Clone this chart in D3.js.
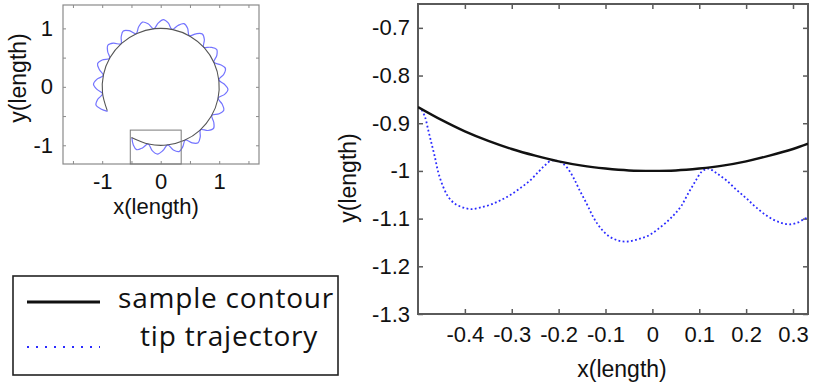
<!DOCTYPE html>
<html>
<head>
<meta charset="utf-8">
<script src="https://cdn.jsdelivr.net/npm/d3@7"></script>
<style>
  body { margin: 0; background: #fff; }
  svg { display: block; }
  text { font-family: "Liberation Sans", Arial, sans-serif; fill: #111; }
  .legend text { font-family: "Open Sans", "Noto Sans", sans-serif; letter-spacing: 0.8px; }
</style>
</head>
<body>
<div id="chart"></div>
<script>
// ---- zoomed view (right panel) ----
const mainXDomain = [-0.5, 0.332]
const mainYDomain = [-1.3, -0.65]
const mainXTicks = [-0.4, -0.3, -0.2, -0.1, 0, 0.1, 0.2, 0.3]
const mainXTickLabels = ['-0.4', '-0.3', '-0.2', '-0.1', '0', '0.1', '0.2', '0.3']
const mainYTicks = [-1.3, -1.2, -1.1, -1, -0.9, -0.8, -0.7]
const mainYTickLabels = ['-1.3', '-1.2', '-1.1', '-1', '-0.9', '-0.8', '-0.7']

const contourX = [-0.5, -0.45, -0.4, -0.35, -0.3, -0.25, -0.2, -0.15, -0.1, -0.05, 0, 0.05, 0.1, 0.15, 0.2, 0.25, 0.3, 0.332]
const contourY = [-0.866, -0.893, -0.917, -0.937, -0.954, -0.968, -0.98, -0.989, -0.995, -0.999, -1, -0.999, -0.995, -0.989, -0.98, -0.968, -0.954, -0.943]

const tipX = [-0.492, -0.485, -0.478, -0.471, -0.464, -0.457, -0.446, -0.435, -0.421, -0.403, -0.386, -0.368, -0.346, -0.325, -0.304, -0.283, -0.261, -0.243, -0.229, -0.215,
  -0.197, -0.183, -0.169, -0.155, -0.140, -0.126, -0.112, -0.094, -0.073, -0.052, -0.030, -0.009, 0.012, 0.034, 0.048, 0.062, 0.076, 0.091, 0.105, 0.119,
  0.137, 0.158, 0.180, 0.201, 0.222, 0.247, 0.272, 0.293, 0.311, 0.325, 0.332]
const tipY = [-0.872, -0.887, -0.915, -0.943, -0.971, -1.002, -1.034, -1.055, -1.069, -1.077, -1.080, -1.077, -1.071, -1.062, -1.051, -1.037, -1.020, -1.002, -0.988, -0.978,
  -0.981, -0.992, -1.013, -1.041, -1.069, -1.097, -1.118, -1.136, -1.146, -1.148, -1.143, -1.136, -1.122, -1.104, -1.090, -1.073, -1.048, -1.023, -1.002, -0.995,
  -1.005, -1.020, -1.040, -1.058, -1.077, -1.096, -1.108, -1.112, -1.108, -1.100, -1.098]

// ---- full view (inset, top left) ----
const insetXDomain = [-1.67, 1.68]
const insetYDomain = [-1.32, 1.40]
const insetXTicks = [-1.5, -1, -0.5, 0, 0.5, 1, 1.5]
const insetYTicks = [-1, -0.5, 0, 0.5, 1]
const zoomBoxX = [-0.52, 0.35]
const zoomBoxY = [-1.32, -0.74]

// contour arc, bearing in degrees (clockwise from +y) and radius
const insetContourBearing = [-114, -96, -78, -60, -42, -24, -6, 12, 30, 48, 66, 84, 102, 120, 138, 156, 174, 192, 210]
const insetContourRadius = [1, 1, 1, 1, 1, 1, 1, 1, 1, 1, 1, 1, 1, 1, 1, 1, 1, 1, 1]

// tip trajectory around the whole contour
const insetTipBearing = [
  -114.8, -110.3, -105.8, -101.3, -96.8, -92.3, -87.8, -83.3, -78.8, -74.3, -69.8, -65.3,
  -60.8, -56.3, -51.8, -47.3, -42.8, -38.3, -33.8, -29.3, -24.8, -20.3, -15.8, -11.3,
  -6.8, -2.3, 2.2, 6.7, 11.2, 15.7, 20.2, 24.7, 29.2, 33.7, 38.2, 42.7,
  47.2, 51.7, 56.2, 60.7, 65.2, 69.7, 74.2, 78.7, 83.2, 87.7, 92.2, 96.7,
  101.2, 105.7, 110.2, 114.7, 119.2, 123.7, 128.2, 132.7, 137.2, 141.7, 146.2, 150.7,
  155.2, 159.7, 164.2, 168.7, 173.2, 178.0, 182.8, 187.6, 192.4, 196.7, 201.0, 205.2, 209.5]
const insetTipRadius = [
  1, 1.09, 1.15, 1.1, 1, 1.09, 1.15, 1.1, 1, 1.09, 1.15, 1.1,
  1, 1.09, 1.15, 1.1, 1, 1.09, 1.15, 1.1, 1, 1.09, 1.15, 1.1,
  1, 1.09, 1.15, 1.1, 1, 1.09, 1.15, 1.1, 1, 1.09, 1.15, 1.1,
  1, 1.09, 1.15, 1.1, 1, 1.09, 1.15, 1.1, 1, 1.09, 1.15, 1.1,
  1, 1.09, 1.15, 1.1, 1, 1.09, 1.15, 1.1, 1, 1.09, 1.15, 1.1,
  1, 1.09, 1.15, 1.1, 1, 1.09, 1.15, 1.1, 1, 1.09, 1.15, 1.1, 1]

const legendNames = ['sample contour', 'tip trajectory']

const width = 816
const height = 392
const svg = d3.select('#chart').append('svg').attr('width', width).attr('height', height)

// ================= right panel =================
const main = { left: 418, right: 808, top: 4, bottom: 314 }
const mx = d3.scaleLinear().domain(mainXDomain).range([main.left, main.right])
const my = d3.scaleLinear().domain(mainYDomain).range([main.bottom, main.top])

const axisColor = '#5a5a5a'

function styleAxis(g, color, width) {
  g.select('.domain').remove()
  g.selectAll('.tick line').attr('stroke', color).attr('stroke-width', width)
  g.selectAll('.tick text').attr('fill', '#111')
}

svg.append('g')
  .attr('transform', 'translate(0,' + main.bottom + ')')
  .call(d3.axisBottom(mx).tickValues(mainXTicks).tickSize(-5).tickPadding(12)
    .tickFormat(function(d, i) { return mainXTickLabels[i] }))
  .call(styleAxis, axisColor, 1.5)
  .style('font-size', '22px').attr('font-family', null)

svg.append('g')
  .attr('transform', 'translate(0,' + main.top + ')')
  .call(d3.axisTop(mx).tickValues(mainXTicks).tickSize(-5).tickFormat(''))
  .call(styleAxis, axisColor, 1.5)

svg.append('g')
  .attr('transform', 'translate(' + main.left + ',0)')
  .call(d3.axisLeft(my).tickValues(mainYTicks).tickSize(-5).tickPadding(8)
    .tickFormat(function(d, i) { return mainYTickLabels[i] }))
  .call(styleAxis, axisColor, 1.5)
  .style('font-size', '22px').attr('font-family', null)

svg.append('g')
  .attr('transform', 'translate(' + main.right + ',0)')
  .call(d3.axisRight(my).tickValues(mainYTicks).tickSize(-5).tickFormat(''))
  .call(styleAxis, axisColor, 1.5)

svg.append('rect')
  .attr('x', main.left).attr('y', main.top)
  .attr('width', main.right - main.left).attr('height', main.bottom - main.top)
  .attr('fill', 'none').attr('stroke', axisColor).attr('stroke-width', 2)

const clip = svg.append('clipPath').attr('id', 'mainclip')
clip.append('rect')
  .attr('x', main.left).attr('y', main.top)
  .attr('width', main.right - main.left).attr('height', main.bottom - main.top)

const contourData = contourX.map(function(x, i) { return [x, contourY[i]] })
const tipData = tipX.map(function(x, i) { return [x, tipY[i]] })

const mainLine = d3.line()
  .x(function(d) { return mx(d[0]) })
  .y(function(d) { return my(d[1]) })
  .curve(d3.curveCatmullRom.alpha(0.5))

const plotG = svg.append('g').attr('clip-path', 'url(#mainclip)')
plotG.append('path')
  .attr('d', mainLine(tipData))
  .attr('fill', 'none')
  .attr('stroke', '#2b2bff')
  .attr('stroke-width', 1.8)
  .attr('stroke-dasharray', '1.8,2.4')
plotG.append('path')
  .attr('d', mainLine(contourData))
  .attr('fill', 'none')
  .attr('stroke', '#111')
  .attr('stroke-width', 2.4)

svg.append('text')
  .attr('x', 622).attr('y', 377)
  .attr('text-anchor', 'middle')
  .style('font-size', '23px')
  .text('x(length)')

svg.append('text')
  .attr('transform', 'translate(356,178) rotate(-90)')
  .attr('text-anchor', 'middle')
  .style('font-size', '23px')
  .text('y(length)')

// ================= inset =================
const inset = { left: 63, right: 259, top: 5, bottom: 164 }
const ix = d3.scaleLinear().domain(insetXDomain).range([inset.left, inset.right])
const iy = d3.scaleLinear().domain(insetYDomain).range([inset.bottom, inset.top])
const ir = d3.scaleLinear().domain([0, 1]).range([0, ix(1) - ix(0)])

const insetColor = '#8a8a8a'

svg.append('g')
  .attr('transform', 'translate(0,' + inset.bottom + ')')
  .call(d3.axisBottom(ix).tickValues(insetXTicks).tickSize(-3).tickPadding(9)
    .tickFormat(function(d) { return Number.isInteger(d) ? String(d) : '' }))
  .call(styleAxis, insetColor, 1)
  .style('font-size', '22px').attr('font-family', null)

svg.append('g')
  .attr('transform', 'translate(0,' + inset.top + ')')
  .call(d3.axisTop(ix).tickValues(insetXTicks).tickSize(-3).tickFormat(''))
  .call(styleAxis, insetColor, 1)

svg.append('g')
  .attr('transform', 'translate(' + inset.left + ',0)')
  .call(d3.axisLeft(iy).tickValues(insetYTicks).tickSize(-3).tickPadding(10)
    .tickFormat(function(d) { return Number.isInteger(d) ? String(d) : '' }))
  .call(styleAxis, insetColor, 1)
  .style('font-size', '22px').attr('font-family', null)

svg.append('g')
  .attr('transform', 'translate(' + inset.right + ',0)')
  .call(d3.axisRight(iy).tickValues(insetYTicks).tickSize(-3).tickFormat(''))
  .call(styleAxis, insetColor, 1)

svg.append('rect')
  .attr('x', inset.left).attr('y', inset.top)
  .attr('width', inset.right - inset.left).attr('height', inset.bottom - inset.top)
  .attr('fill', 'none').attr('stroke', insetColor).attr('stroke-width', 1.2)

const radial = d3.lineRadial()
  .angle(function(d) { return d[0] * Math.PI / 180 })
  .radius(function(d) { return ir(d[1]) })
  .curve(d3.curveCatmullRom.alpha(0.5))

const centre = 'translate(' + ix(0) + ',' + iy(0) + ')'

svg.append('path')
  .attr('transform', centre)
  .attr('d', radial(insetTipBearing.map(function(b, i) { return [b, insetTipRadius[i]] })))
  .attr('fill', 'none')
  .attr('stroke', '#7474ff')
  .attr('stroke-width', 1.2)

svg.append('path')
  .attr('transform', centre)
  .attr('d', radial(insetContourBearing.map(function(b, i) { return [b, insetContourRadius[i]] })))
  .attr('fill', 'none')
  .attr('stroke', '#555')
  .attr('stroke-width', 1.1)

svg.append('rect')
  .attr('x', ix(zoomBoxX[0])).attr('y', iy(zoomBoxY[1]))
  .attr('width', ix(zoomBoxX[1]) - ix(zoomBoxX[0]))
  .attr('height', iy(zoomBoxY[0]) - iy(zoomBoxY[1]))
  .attr('fill', 'none').attr('stroke', '#7a7a7a').attr('stroke-width', 1)

svg.append('text')
  .attr('x', 156).attr('y', 214)
  .attr('text-anchor', 'middle')
  .style('font-size', '22px')
  .text('x(length)')

svg.append('text')
  .attr('transform', 'translate(26,78) rotate(-90)')
  .attr('text-anchor', 'middle')
  .style('font-size', '23px')
  .text('y(length)')

// ================= legend =================
const legend = svg.append('g').attr('class', 'legend')
legend.append('rect')
  .attr('x', 13).attr('y', 276).attr('width', 325).attr('height', 99)
  .attr('fill', '#fff').attr('stroke', '#222').attr('stroke-width', 1.6)

legend.append('line')
  .attr('x1', 27).attr('x2', 100).attr('y1', 302).attr('y2', 302)
  .attr('stroke', '#111').attr('stroke-width', 3)
legend.append('line')
  .attr('x1', 27).attr('x2', 100).attr('y1', 347).attr('y2', 347)
  .attr('stroke', '#2b2bff').attr('stroke-width', 2.2)
  .attr('stroke-dasharray', '2,7')

legend.append('text')
  .attr('x', 118).attr('y', 308)
  .style('font-size', '28px')
  .text(legendNames[0])
legend.append('text')
  .attr('x', 140).attr('y', 346)
  .style('font-size', '28px')
  .text(legendNames[1])
</script>
</body>
</html>
